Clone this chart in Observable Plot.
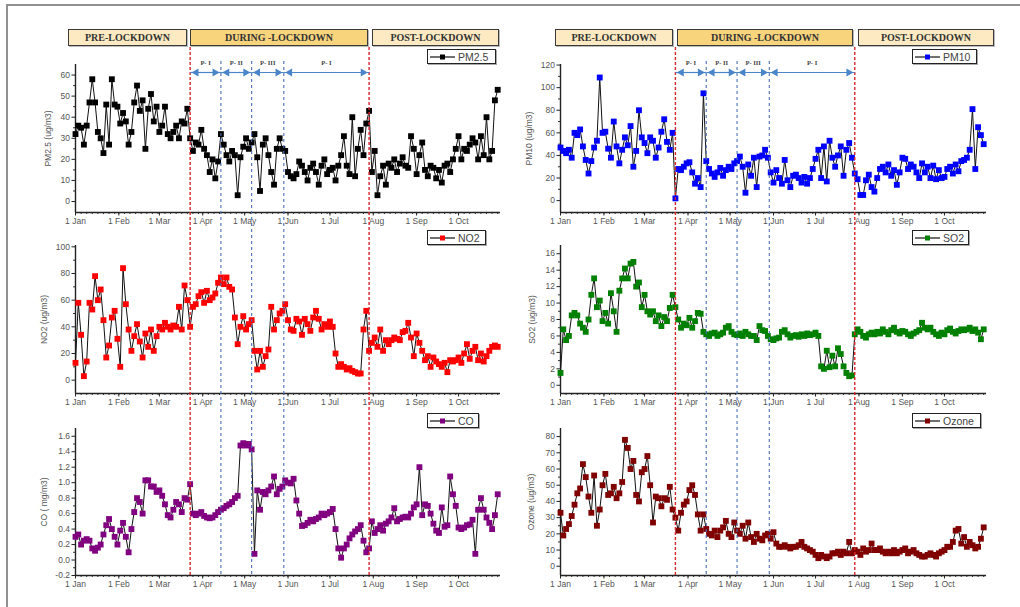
<!DOCTYPE html>
<html><head><meta charset="utf-8">
<script src="https://cdn.jsdelivr.net/npm/d3@7"></script>
<script src="https://cdn.jsdelivr.net/npm/@observablehq/plot@0.6"></script>
<style>
body{margin:0;background:#fff;}
#root{position:relative;width:1020px;height:607px;overflow:hidden;background:#fff;font-family:"Liberation Sans",Arial,sans-serif;}
.frame{position:absolute;left:6px;top:4px;width:1200px;height:800px;border-left:2px solid #909090;border-top:2px solid #909090;}
.hdr{position:absolute;height:17px;border:1.3px solid #3a3a3a;box-sizing:border-box;font-family:"Liberation Serif","DejaVu Serif",serif;font-weight:bold;font-size:10px;color:#333;display:flex;align-items:center;justify-content:center;box-shadow:1px 1px 0 #bbb;}
.leg{position:absolute;height:15px;box-sizing:border-box;border:1.2px solid #222;background:#fff;display:flex;align-items:center;font-size:10.5px;color:#444;box-shadow:1px 1px 0 #aaa;}
.leg svg{flex:none;}
.abs{position:absolute;}
</style>
</head><body><div id="root"><div class="frame"></div></div>
<script>
// ---------- data: values every 2 days starting 1 Jan 2020 ----------
const startDate = "2020-01-01";
const endDate = "2020-10-31";
const stepDays = 2;

const pm25 = [32,36,35,27,36,47,58,47,33,30, 23,46,27,58,46,45,37,42,38,27, 33,47,55,43,48,25,44,51,38,45,
  33,36,45,32,30,33,36,30,38,37, 44,30,24,28,27,34,25,22,14,20, 11,19,32,27,22,19,24,22,3,21,
  26,30,25,28,32,21,5,27,30,22, 14,8,25,30,25,24,14,12,11,13, 19,17,14,10,16,18,14,8,17,20,
  13,15,16,10,17,22,31,17,13,40, 12,25,34,22,37,43,14,24,3,12, 17,8,18,16,20,14,18,21,17,16,
  31,25,13,22,28,15,12,17,16,11, 15,9,17,18,14,20,25,31,20,25, 24,27,30,28,20,31,22,40,20,24, 48,53];
const pm10 = [47,44,42,45,38,60,58,63,48,36, 24,35,47,53,109,60,61,46,38,70, 48,33,45,56,49,66,30,44,80,56,
  51,42,56,53,38,47,61,72,52,45, 60,2,28,27,30,33,34,25,15,20, 12,95,35,28,24,21,25,29,22,27,
  30,28,33,35,39,30,7,32,22,38, 12,39,40,45,38,25,16,27,20,15, 36,18,12,22,23,20,16,21,15,20,
  28,37,45,20,48,17,53,38,30,40, 48,22,45,51,38,24,19,5,5,18, 23,12,8,20,28,30,25,32,22,27,
  14,25,38,37,28,32,30,25,20,33, 25,30,20,31,19,27,20,21,28,30, 24,32,26,35,36,38,45,81,28,65, 58,50];
const no2 = [13,58,34,3,14,58,53,78,60,68, 45,17,26,47,52,31,10,84,57,38, 22,33,42,29,17,35,25,38,22,33,
  40,38,43,40,38,41,40,55,38,71, 60,40,55,57,63,66,58,67,60,62, 65,73,77,72,77,70,68,47,27,40,
  48,38,42,45,22,8,22,10,18,23, 55,38,45,50,52,57,45,38,37,46, 44,34,46,42,37,47,52,46,38,42,
  40,44,40,20,10,12,10,8,9,7, 6,5,5,38,52,22,28,32,25,38, 22,30,27,30,32,31,30,36,37,43,
  32,18,35,28,22,15,18,10,17,14, 12,10,13,6,15,14,15,17,13,20, 27,16,22,25,15,20,14,18,22,25, 26,25];
const so2 = [1.5,6.8,5.5,6.0,8.5,8.8,8.5,7.5,7.0,6.5, 8.0,11.0,13.0,9.5,10.3,7.8,8.8,7.5,11.2,9.0,
  6.5,11.5,13.0,14.2,13.0,14.8,15.0,12.0,12.5,9.5, 11.0,9.0,8.6,9.0,7.8,8.5,7.2,8.3,7.8,9.4,
  11.0,9.5,8.0,7.0,7.5,7.3,8.2,7.0,7.8,8.8, 8.7,6.5,6.2,6.0,6.3,6.4,6.0,6.2,6.4,7.0,
  7.2,6.5,6.2,6.1,6.3,6.0,6.5,6.2,6.0,6.0, 5.5,7.2,6.7,6.6,6.0,5.6,5.5,5.7,5.8,6.5,
  6.7,6.2,5.8,6.0,6.1,5.9,6.2,6.0,6.3,6.1, 6.2,6.4,6.0,2.3,2.0,4.2,2.2,3.6,2.3,4.5,
  3.8,2.3,1.5,1.1,1.2,6.2,6.8,6.5,6.0,5.8, 6.2,6.4,6.2,6.5,6.3,6.8,6.5,6.2,6.7,7.0,
  6.5,6.3,6.6,6.5,6.2,6.0,6.3,6.5,6.7,7.6, 7.0,6.8,7.0,6.5,6.2,6.0,6.4,6.2,6.7,6.9,
  6.5,6.3,6.6,6.8,6.7,6.8,7.0,6.6,6.8,6.4, 5.6,6.8];
const co = [0.30,0.33,0.20,0.25,0.27,0.25,0.15,0.12,0.16,0.20, 0.33,0.45,0.53,0.40,0.30,0.20,0.38,0.48,0.30,0.10,
  0.40,0.62,0.80,0.75,0.60,1.03,1.03,0.95,0.95,0.88, 0.90,0.83,0.72,0.58,0.55,0.65,0.75,0.72,0.62,0.80,
  0.78,0.98,0.60,0.58,0.60,0.62,0.57,0.55,0.54,0.55, 0.58,0.62,0.65,0.67,0.70,0.72,0.75,0.80,0.83,1.48,
  1.51,1.48,1.50,1.43,0.08,0.90,0.65,0.88,0.85,0.90, 0.95,1.08,0.85,0.92,0.95,1.03,1.00,0.99,1.05,0.77,
  0.60,0.44,0.45,0.48,0.52,0.50,0.53,0.55,0.60,0.58, 0.60,0.62,0.66,0.40,0.15,0.03,0.15,0.20,0.28,0.33,
  0.37,0.40,0.45,0.25,0.10,0.15,0.50,0.35,0.40,0.45, 0.38,0.47,0.50,0.55,0.67,0.50,0.53,0.55,0.56,0.55,
  0.60,0.68,0.72,1.20,0.58,0.72,0.70,0.60,0.47,0.38, 0.35,0.68,0.43,0.45,1.08,0.85,0.70,0.42,0.40,0.42,
  0.45,0.46,0.52,0.08,0.65,0.80,0.65,0.55,0.48,0.40, 0.58,0.85];
const ozone = [33,19,23,26,31,38,45,48,63,55, 43,33,56,25,35,50,57,44,45,49, 42,45,52,78,73,60,65,44,40,58,
  60,68,50,27,43,42,37,42,41,49, 35,30,22,33,38,40,47,50,44,32, 22,32,23,20,19,22,18,22,24,28,
  20,18,27,22,20,25,17,27,18,15, 20,17,16,19,20,17,21,14,12,12, 13,12,11,12,12,13,15,12,11,10,
  9,7,5,7,6,5,6,8,8,9, 7,9,8,15,8,10,9,7,11,9, 10,14,10,10,11,9,8,9,8,10,
  8,9,10,11,8,9,10,8,7,6, 6,7,8,7,6,8,9,10,12,12, 15,22,23,14,18,12,15,13,11,12, 17,24];

// tick labels
const monthTicks = ["2020-01-01","2020-02-01","2020-03-01","2020-04-01","2020-05-01","2020-06-01","2020-07-01","2020-08-01","2020-09-01","2020-10-01"];
const ticksPM25 = [0,10,20,30,40,50,60];
const ticksPM10 = [0,20,40,60,80,100,120];
const ticksNO2 = [0,20,40,60,80,100];
const ticksSO2 = [0,2,4,6,8,10,12,14,16];
const ticksCO = [-0.2,0,0.2,0.4,0.6,0.8,1.0,1.2,1.4,1.6];
const ticksOzone = [0,10,20,30,40,50,60,70,80];

// periods
const periodNames = ["PRE-LOCKDOWN","DURING -LOCKDOWN","POST-LOCKDOWN"];
const lockdownBounds = ["2020-03-23","2020-07-29"];
const phaseBounds = ["2020-04-14","2020-05-06","2020-05-29"];
const phaseLabels = ["P- I","P- II","P- III","P- I"];

// ---------- helpers ----------
const parse = d3.utcParse("%Y-%m-%d");
const x0 = parse(startDate), x1 = parse(endDate);
const xDomain = [x0, x1];
const months = monthTicks.map(parse);
const minorX = d3.utcDay.every(4).range(x0, x1);
const series = (vals) => vals.map((v, i) => ({date: d3.utcDay.offset(x0, i * stepDays), value: v}));

const root = document.getElementById("root");
function place(el, left, top, z) {
  const w = document.createElement("div");
  w.className = "abs"; w.style.left = left + "px"; w.style.top = top + "px";
  if (z) w.style.zIndex = z;
  w.appendChild(el); root.appendChild(w); return w;
}

const cols = {
  left: {left: 0, width: 510, ml: 75, mr: 10},
  right: {left: 510, width: 486, ml: 50, mr: 10}
};
const rows = [
  {top: 55, height: 180, mt: 9, mb: 23},
  {top: 237, height: 180, mt: 8, mb: 24},
  {top: 420, height: 180, mt: 8, mb: 25}
];
const baseStyle = {background: "transparent", overflow: "visible", fontFamily: "'Liberation Sans', Arial, sans-serif", fontSize: "8.5px", color: "#222"};

function panel(col, row, cfg) {
  const data = series(cfg.values);
  const step = cfg.ticks[1] - cfg.ticks[0];
  const minorY = cfg.ticks.slice(0, -1).map(t => t + step / 2);
  const fmt = cfg.fmt || (d => String(d));
  return Plot.plot({
    width: col.width, height: row.height,
    marginLeft: col.ml, marginRight: col.mr, marginTop: row.mt, marginBottom: row.mb,
    style: baseStyle,
    x: {type: "utc", domain: xDomain},
    y: {domain: cfg.domain},
    marks: [
      Plot.axisX({ticks: minorX, tickSize: 2, tickFormat: () => "", label: null, stroke: "#333"}),
      Plot.axisX({ticks: months, tickSize: 3.5, tickPadding: 2, tickFormat: d3.utcFormat("%-d %b"), label: null, fill: "#555", stroke: "#222"}),
      Plot.axisY({ticks: minorY, tickSize: 2, tickFormat: () => "", label: null, stroke: "#333"}),
      Plot.axisY({ticks: cfg.ticks, tickSize: 3.5, tickPadding: 2, tickFormat: fmt, fill: "#555", stroke: "#222",
        label: cfg.label, labelAnchor: "center", labelOffset: cfg.labelOffset, labelArrow: "none"}),
      Plot.ruleY([cfg.domain[0]], {stroke: "#222", strokeWidth: 1.4}),
      Plot.ruleX([x0], {stroke: "#222", strokeWidth: 1.4}),
      Plot.line(data, {x: "date", y: "value", stroke: "#111", strokeWidth: 1}),
      Plot.dot(data, {x: "date", y: "value", symbol: "square", r: 3.3, fill: cfg.color, stroke: "none"})
    ]
  });
}

const panels = [
  [cols.left, rows[0], {values: pm25, domain: [-5.2, 65], ticks: ticksPM25, label: "PM2.5 (ug/m3)", labelOffset: 31, color: "#000000"}],
  [cols.left, rows[1], {values: no2, domain: [-10, 101], ticks: ticksNO2, label: "NO2 (ug/m3)", labelOffset: 35, color: "#ff0000"}],
  [cols.left, rows[2], {values: co, domain: [-0.2, 1.7], ticks: ticksCO, label: "CO ( mg/m3)", labelOffset: 35, color: "#800080", fmt: d => d.toFixed(1)}],
  [cols.right, rows[0], {values: pm10, domain: [-10.5, 120.5], ticks: ticksPM10, label: "PM10 (ug/m3)", labelOffset: 35, color: "#0000ff"}],
  [cols.right, rows[1], {values: so2, domain: [-1, 17], ticks: ticksSO2, label: "SO2 (ug/m3)", labelOffset: 32, color: "#008000"}],
  [cols.right, rows[2], {values: ozone, domain: [-5.7, 85], ticks: ticksOzone, label: "Ozone (ug/m3)", labelOffset: 33, color: "#800000"}]
];
for (const [col, row, cfg] of panels) place(panel(col, row, cfg), col.left, row.top, 1);

// ---------- overlays: lockdown & phase boundaries ----------
const lockDates = lockdownBounds.map(parse);
const phaseDates = phaseBounds.map(parse);
const edges = [lockDates[0], ...phaseDates, lockDates[1]];
const phases = phaseLabels.map((label, i) => ({from: edges[i], to: edges[i + 1], mid: new Date((+edges[i] + +edges[i + 1]) / 2), label, row: 0.5}));

function overlay(col, height, marks, yopts) {
  return Plot.plot({
    width: col.width, height, marginLeft: col.ml, marginRight: col.mr, marginTop: 0, marginBottom: 0,
    x: {type: "utc", domain: xDomain, axis: null},
    y: yopts || undefined,
    style: baseStyle, marks
  });
}
const arrowColor = "#4a85c9";
for (const col of [cols.left, cols.right]) {
  place(overlay(col, 528, [Plot.ruleX(lockDates, {stroke: "#d9262b", strokeWidth: 1.4, strokeDasharray: "3,2"})]), col.left, 47, 2);
  place(overlay(col, 514, [Plot.ruleX(phaseDates, {stroke: "#4a6fb5", strokeWidth: 1.1, strokeDasharray: "3,3"})]), col.left, 61, 2);
  place(overlay(col, 12, [
    Plot.link(phases, {x1: "from", x2: "to", y1: "row", y2: "row", stroke: arrowColor, strokeWidth: 1.2}),
    Plot.dot(phases, {x: "from", y: "row", symbol: "triangle", rotate: -90, r: 3, fill: arrowColor, dx: 6}),
    Plot.dot(phases, {x: "to", y: "row", symbol: "triangle", rotate: 90, r: 3, fill: arrowColor, dx: -6}),
    Plot.text(phases, {x: "mid", y: "row", text: "label", dy: -9.5, fontSize: 6.5, fontWeight: "bold", fontFamily: "'Liberation Serif', serif", fill: "#444"})
  ], {domain: [0, 1], axis: null}), col.left, 66, 3);
}

// ---------- period header boxes ----------
const headerBoxes = {
  left: [[68, 119], [190, 178], [372, 127]],
  right: [[555, 118], [677, 176], [858, 136]]
};
const headerFills = ["#fdeac2", "#f8d47d", "#fdeac2"];
for (const side of ["left", "right"]) {
  headerBoxes[side].forEach(([x, w], i) => {
    const d = document.createElement("div");
    d.className = "hdr";
    d.style.left = x + "px"; d.style.top = "29px"; d.style.width = w + "px";
    d.style.background = headerFills[i];
    d.textContent = periodNames[i];
    root.appendChild(d);
  });
}

// ---------- legends ----------
const legends = [
  {x: 427, y: 49, w: 69, label: "PM2.5", color: "#000000"},
  {x: 427, y: 230, w: 59, label: "NO2", color: "#ff0000"},
  {x: 427, y: 413, w: 52, label: "CO", color: "#800080"},
  {x: 912, y: 49, w: 65, label: "PM10", color: "#0000ff"},
  {x: 912, y: 230, w: 57, label: "SO2", color: "#008000"},
  {x: 912, y: 413, w: 69, label: "Ozone", color: "#800000"}
];
for (const L of legends) {
  const d = document.createElement("div");
  d.className = "leg";
  d.style.left = L.x + "px"; d.style.top = L.y + "px"; d.style.width = L.w + "px"; d.style.zIndex = 4;
  d.innerHTML = `<svg width="30" height="12"><line x1="2" y1="6" x2="27" y2="6" stroke="#111" stroke-width="1.2"/><rect x="12" y="3.5" width="5" height="5" fill="${L.color}"/></svg><span>${L.label}</span>`;
  root.appendChild(d);
}
</script></body></html>
